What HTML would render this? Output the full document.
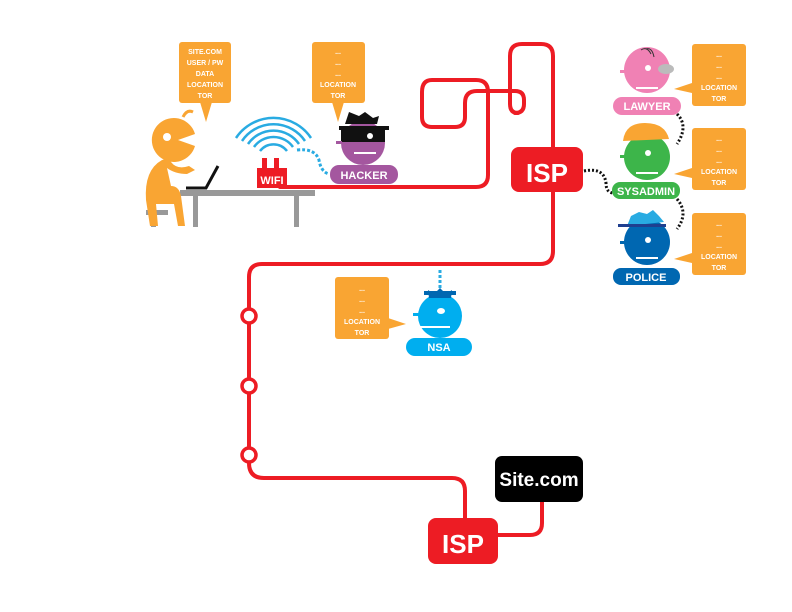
<!DOCTYPE html>
<html><head><meta charset="utf-8"><style>
html,body{margin:0;padding:0;background:#fff}
svg{display:block}
text{font-family:"Liberation Sans",sans-serif;font-weight:bold}
</style></head><body>
<svg width="792" height="612" viewBox="0 0 792 612" xmlns="http://www.w3.org/2000/svg">
<!-- red route -->
<g fill="none" stroke="#ed1c24" stroke-width="4" stroke-linejoin="round" stroke-linecap="round">
<path d="M280 187 H476 Q488 187 488 175 V92 Q488 80 476 80 H432 Q422 80 422 92 V117 Q422 127 432 127 H455 Q465 127 465 117 V103 Q465 91 477 91 H515 Q524 91 524 100 V104 Q524 113 515 113 H518 Q510 113 510 104 V56 Q510 44 522 44 H541 Q553 44 553 56 V251 Q553 264 540 264 H262 Q249 264 249 277 V463 Q249 478 264 478 H452 Q465 478 465 491 V520"/>
<path d="M498 535 H530 Q542 535 542 523 V500"/>
</g>
<g fill="#fff" stroke="#ed1c24" stroke-width="3.5">
<circle cx="249" cy="316" r="7"/><circle cx="249" cy="386" r="7"/><circle cx="249" cy="455" r="7"/>
</g>
<!-- ISP boxes -->
<rect x="511" y="147" width="72" height="45" rx="8" fill="#ed1c24"/>
<text x="547" y="182" font-size="26" fill="#fff" text-anchor="middle">ISP</text>
<rect x="428" y="518" width="70" height="46" rx="8" fill="#ed1c24"/>
<text x="463" y="553" font-size="26" fill="#fff" text-anchor="middle">ISP</text>
<rect x="495" y="456" width="88" height="46" rx="7" fill="#000"/>
<text x="539" y="486" font-size="19" fill="#fff" text-anchor="middle">Site.com</text>

<!-- table -->
<rect x="180" y="190" width="135" height="6" fill="#999"/>
<rect x="193" y="195" width="5" height="32" fill="#999"/>
<rect x="294" y="195" width="5" height="32" fill="#999"/>
<rect x="146" y="210" width="22" height="5" fill="#999"/>
<rect x="151" y="214" width="5" height="13" fill="#999"/>
<!-- user -->
<g fill="#f9a533">
<path d="M173 140 m22 -6 A22 22 0 1 0 195 146 L178 140 Z"/>
<path d="M183 117 q4 -8 10 -5" stroke="#f9a533" stroke-width="3" fill="none"/>
<path d="M162 160 q-18 10 -16 40 l4 26 h8 l-2 -22 h18 l4 22 h7 l-4 -30 q-2 -10 -10 -10 l-4 -18 q8 6 20 6 l8 -4 -6 -4 q-12 4 -18 -4 q-2 -4 -9 -2z"/>
</g>
<circle cx="167" cy="137" r="4" fill="#fff"/>
<path d="M186 188 l20 0 l12 -22" stroke="#111" stroke-width="3" fill="none"/>
<!-- user bubble -->
<rect x="179" y="42" width="52" height="61" rx="3" fill="#f9a533"/>
<path d="M200 102 L206 122 L212 102Z" fill="#f9a533"/>
<g font-size="7" fill="#fff" text-anchor="middle">
<text x="205" y="54">SITE.COM</text><text x="205" y="65">USER / PW</text><text x="205" y="76">DATA</text><text x="205" y="87">LOCATION</text><text x="205" y="98">TOR</text>
</g>
<!-- hacker bubble -->
<rect x="312" y="42" width="53" height="61" rx="3" fill="#f9a533"/>
<path d="M332 102 L338 122 L344 102Z" fill="#f9a533"/>
<g font-size="7" fill="#fff" text-anchor="middle">
<text x="338" y="54">...</text><text x="338" y="65">...</text><text x="338" y="76">...</text><text x="338" y="87">LOCATION</text><text x="338" y="98">TOR</text>
</g>
<!-- wifi -->
<g fill="none" stroke="#29abe2" stroke-width="2.5">
<path d="M236 138 A45 45 0 0 1 311 138"/><path d="M242 141 A38 38 0 0 1 305 141"/><path d="M248 144 A31 31 0 0 1 299 144"/><path d="M254 147 A24 24 0 0 1 293 147"/><path d="M260 151 A17 17 0 0 1 287 151"/>
</g>
<rect x="257" y="168" width="30" height="20" fill="#ed1c24"/>
<rect x="262" y="158" width="5" height="12" fill="#ed1c24"/><rect x="274" y="158" width="5" height="12" fill="#ed1c24"/>
<text x="272" y="184" font-size="11" fill="#fff" text-anchor="middle">WIFI</text>
<path d="M297 150 q18 -2 22 10 q2 12 10 14" fill="none" stroke="#29abe2" stroke-width="3" stroke-dasharray="3 2"/>
<!-- hacker -->
<circle cx="363" cy="143" r="22" fill="#a4579f"/>
<rect x="341" y="130" width="44" height="12" fill="#111"/>
<path d="M345 124 l4 -12 l10 4 l6 -4 l8 6 l6 -2 l-2 8z" fill="#111"/>
<rect x="339" y="126" width="50" height="4" fill="#111"/>
<circle cx="370" cy="136" r="3" fill="#fff"/>
<rect x="354" y="152" width="22" height="2" fill="#fff"/>
<rect x="336" y="141" width="6" height="3" fill="#a4579f"/>
<rect x="330" y="165" width="68" height="19" rx="9" fill="#a4579f"/>
<text x="364" y="179" font-size="11" fill="#fff" text-anchor="middle">HACKER</text>

<!-- right column dotted -->
<g fill="none" stroke="#111" stroke-width="3" stroke-dasharray="2 2">
<path d="M584 171 q20 -4 22 12 q0 10 8 10"/>
<path d="M677 114 q12 12 0 30"/>
<path d="M677 199 q12 14 0 30"/>
</g>
<!-- lawyer -->
<circle cx="647" cy="70" r="23" fill="#f081b4"/>
<path d="M641 50 q6 -4 10 4 M646 49 q6 -2 8 8" stroke="#333" fill="none"/>
<ellipse cx="666" cy="69" rx="8" ry="5" fill="#bbb"/>
<circle cx="648" cy="68" r="3" fill="#fff"/>
<rect x="620" y="70" width="6" height="3" fill="#f081b4"/>
<rect x="636" y="87" width="22" height="2" fill="#fff"/>
<rect x="613" y="97" width="68" height="18" rx="9" fill="#f081b4"/>
<text x="647" y="110" font-size="11" fill="#fff" text-anchor="middle">LAWYER</text>
<!-- sysadmin -->
<circle cx="647" cy="157" r="23" fill="#3db54a"/>
<path d="M623 141 q2 -18 22 -18 q20 0 24 16z" fill="#f9a533"/>
<circle cx="648" cy="153" r="3" fill="#fff"/>
<rect x="620" y="155" width="6" height="3" fill="#3db54a"/>
<rect x="636" y="172" width="22" height="2" fill="#fff"/>
<rect x="612" y="182" width="68" height="17" rx="8" fill="#3db54a"/>
<text x="646" y="195" font-size="11" fill="#fff" text-anchor="middle">SYSADMIN</text>
<!-- police -->
<circle cx="647" cy="242" r="23" fill="#0067b1"/>
<path d="M627 226 l4 -10 l8 -4 l8 2 l6 -4 l6 6 l5 6z" fill="#29abe2"/>
<rect x="618" y="224" width="48" height="3" fill="#1f3f8f"/>
<circle cx="648" cy="240" r="3" fill="#fff"/>
<rect x="620" y="241" width="6" height="3" fill="#0067b1"/>
<rect x="636" y="257" width="22" height="2" fill="#fff"/>
<rect x="613" y="268" width="67" height="17" rx="8" fill="#0067b1"/>
<text x="646" y="281" font-size="11" fill="#fff" text-anchor="middle">POLICE</text>
<!-- right bubbles -->
<g fill="#f9a533">
<rect x="692" y="44" width="54" height="62" rx="3"/><path d="M692 83 L674 89 L692 93Z"/>
<rect x="692" y="128" width="54" height="62" rx="3"/><path d="M692 168 L674 174 L692 178Z"/>
<rect x="692" y="213" width="54" height="62" rx="3"/><path d="M692 253 L674 259 L692 263Z"/>
</g>
<g font-size="7" fill="#fff" text-anchor="middle">
<text x="719" y="57">...</text><text x="719" y="68">...</text><text x="719" y="79">...</text><text x="719" y="90">LOCATION</text><text x="719" y="101">TOR</text>
<text x="719" y="141">...</text><text x="719" y="152">...</text><text x="719" y="163">...</text><text x="719" y="174">LOCATION</text><text x="719" y="185">TOR</text>
<text x="719" y="226">...</text><text x="719" y="237">...</text><text x="719" y="248">...</text><text x="719" y="259">LOCATION</text><text x="719" y="270">TOR</text>
</g>
<!-- NSA -->
<path d="M440 270 V290" stroke="#29abe2" stroke-width="3" stroke-dasharray="3 2"/>
<circle cx="440" cy="316" r="22" fill="#00aeef"/>
<path d="M429 298 l-1 -8 l6 4 l6 -6 l6 6 l6 -4 l-1 8z" fill="#0067b1"/>
<rect x="424" y="291" width="32" height="4" fill="#0067b1"/>
<ellipse cx="441" cy="311" rx="4" ry="3" fill="#fff"/>
<rect x="413" y="313" width="6" height="3" fill="#00aeef"/>
<rect x="420" y="326" width="30" height="2" fill="#fff"/>
<rect x="406" y="338" width="66" height="18" rx="9" fill="#00aeef"/>
<text x="439" y="351" font-size="11" fill="#fff" text-anchor="middle">NSA</text>
<rect x="335" y="277" width="54" height="62" rx="3" fill="#f9a533"/>
<path d="M388 318 L406 324 L388 329Z" fill="#f9a533"/>
<g font-size="7" fill="#fff" text-anchor="middle">
<text x="362" y="291">...</text><text x="362" y="302">...</text><text x="362" y="313">...</text><text x="362" y="324">LOCATION</text><text x="362" y="335">TOR</text>
</g>
</svg>
</body></html>
